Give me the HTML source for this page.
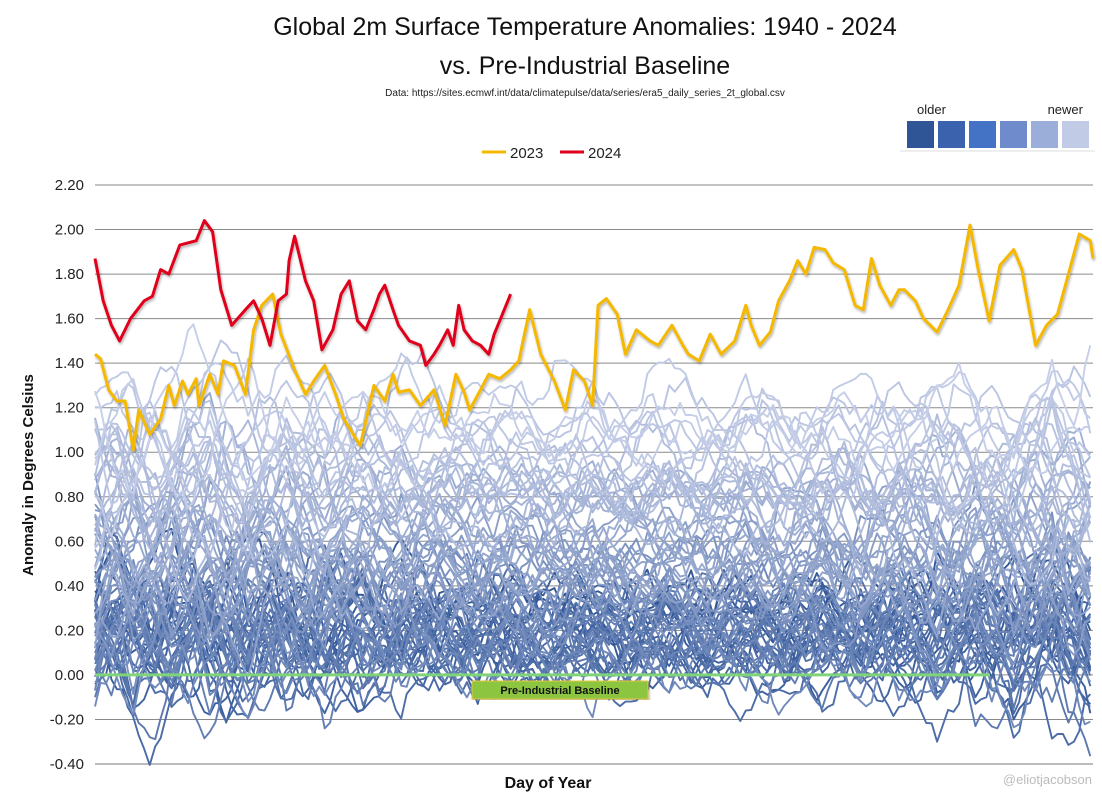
<!DOCTYPE html>
<html><head><meta charset="utf-8"><style>
body{margin:0;background:#fff;font-family:"Liberation Sans",sans-serif;}
svg text{font-family:"Liberation Sans",sans-serif;}
</style></head><body>
<svg id="chart" width="1102" height="800" viewBox="0 0 1102 800" xmlns="http://www.w3.org/2000/svg">
<defs><filter id="sh" x="-5%" y="-5%" width="110%" height="110%"><feDropShadow dx="1" dy="2" stdDeviation="1.2" flood-color="#000" flood-opacity="0.3"/></filter></defs>
<text x="585" y="35" font-size="25" text-anchor="middle" fill="#111">Global 2m Surface Temperature Anomalies: 1940 - 2024</text>
<text x="585" y="74" font-size="25" text-anchor="middle" fill="#111">vs. Pre-Industrial Baseline</text>
<text x="585" y="96" font-size="10" text-anchor="middle" fill="#222">Data: https://sites.ecmwf.int/data/climatepulse/data/series/era5_daily_series_2t_global.csv</text>
<g>
<text x="917" y="114" font-size="13" fill="#222">older</text>
<text x="1083" y="114" font-size="13" fill="#222" text-anchor="end">newer</text>
<rect x="907" y="121" width="27" height="27" fill="#2f5597"/>
<rect x="938" y="121" width="27" height="27" fill="#3a62ad"/>
<rect x="969" y="121" width="27" height="27" fill="#4472c4"/>
<rect x="1000" y="121" width="27" height="27" fill="#6f8bcc"/>
<rect x="1031" y="121" width="27" height="27" fill="#9aaed9"/>
<rect x="1062" y="121" width="27" height="27" fill="#c2cbe6"/>
<line x1="900" y1="151" x2="1095" y2="151" stroke="#ddd"/>
</g>
<g>
<line x1="482" y1="152" x2="506" y2="152" stroke="#f5b800" stroke-width="3"/>
<text x="510" y="158" font-size="15" fill="#222">2023</text>
<line x1="560" y1="152" x2="584" y2="152" stroke="#e0001b" stroke-width="3"/>
<text x="588" y="158" font-size="15" fill="#222">2024</text>
</g>
<g id="grid"></g>
<g id="bg"></g>
<g id="base"></g>
<g id="main"></g>
<text transform="translate(33,475) rotate(-90)" font-size="15" font-weight="bold" text-anchor="middle" fill="#111">Anomaly in Degrees Celsius</text>
<text x="548" y="788" font-size="16" font-weight="bold" text-anchor="middle" fill="#111">Day of Year</text>
<text x="1092" y="784" font-size="13" text-anchor="end" fill="#bbb">@eliotjacobson</text>
</svg>
<script>
const yTicks=[2.2,2.0,1.8,1.6,1.4,1.2,1.0,0.8,0.6,0.4,0.2,0.0,-0.2,-0.4];
const days2023=[1,3,6,9,12,15,17,21,25,28,30,33,35,38,39,43,46,48,52,56,59,62,66,69,74,78,81,85,89,92,98,103,107,110,112,116,120,125,129,133,136,138,142,145,149,153,156,160,164,169,173,176,180,183,185,188,192,195,199,204,207,212,216,218,222,226,230,235,239,241,244,248,251,255,258,261,264,268,271,275,279,282,285,288,292,295,297,301,304,309,313,317,321,324,328,332,337,340,345,349,353,357,361,365,366];
const vals2023=[1.44,1.42,1.28,1.23,1.23,1.01,1.19,1.08,1.15,1.30,1.21,1.32,1.26,1.33,1.21,1.35,1.26,1.41,1.39,1.26,1.55,1.66,1.71,1.53,1.37,1.26,1.32,1.39,1.26,1.15,1.03,1.30,1.23,1.35,1.27,1.28,1.21,1.28,1.12,1.35,1.27,1.19,1.28,1.35,1.33,1.37,1.41,1.64,1.44,1.32,1.19,1.37,1.32,1.21,1.66,1.69,1.62,1.44,1.55,1.50,1.48,1.57,1.48,1.44,1.41,1.53,1.44,1.50,1.66,1.57,1.48,1.54,1.68,1.77,1.86,1.80,1.92,1.91,1.85,1.82,1.66,1.64,1.87,1.75,1.66,1.73,1.73,1.68,1.60,1.54,1.64,1.75,2.02,1.82,1.59,1.84,1.91,1.82,1.48,1.57,1.62,1.80,1.98,1.95,1.87];
const days2024=[1,4,7,10,14,19,22,25,28,32,38,41,44,47,51,56,59,62,65,68,71,72,74,78,81,84,88,91,94,97,100,103,105,107,110,112,116,120,122,125,127,130,132,134,136,139,142,145,147,149,152,153];
const vals2024=[1.87,1.68,1.57,1.50,1.60,1.68,1.70,1.82,1.80,1.93,1.95,2.04,1.99,1.73,1.57,1.64,1.68,1.60,1.48,1.68,1.71,1.86,1.97,1.77,1.68,1.46,1.55,1.71,1.77,1.59,1.55,1.64,1.71,1.75,1.64,1.57,1.50,1.48,1.39,1.44,1.48,1.55,1.48,1.66,1.55,1.50,1.48,1.44,1.53,1.59,1.68,1.71];
const yearMeans=[0.25,0.30,0.22,0.25,0.35,0.25,0.12,0.15,0.12,0.10,
0.05,0.15,0.20,0.25,0.10,0.05,0.00,0.20,0.25,0.20,
0.20,0.25,0.22,0.25,0.02,0.08,0.15,0.15,0.10,0.25,
0.20,0.10,0.22,0.35,0.10,0.15,0.05,0.35,0.25,0.35,
0.45,0.45,0.30,0.50,0.35,0.35,0.42,0.55,0.55,0.45,
0.62,0.55,0.40,0.42,0.50,0.62,0.50,0.62,0.85,0.60,
0.62,0.75,0.80,0.80,0.75,0.85,0.82,0.85,0.70,0.85,
0.92,0.78,0.85,0.88,0.92,1.05,1.20,1.10,1.00,1.12,
1.20,1.05,1.12];
const wiggle0=[0.05,0.12,-0.03,0.18,0.22,0.08,-0.10,-0.05,0.15,0.25,0.10,-0.08,-0.15,0.02,0.10,-0.05,-0.12,0.00,0.08,0.14,0.03,-0.06,-0.02,0.06,0.11,0.04,-0.07,-0.11,0.00,0.09,0.05,-0.04,0.02,0.10,0.06,-0.05,-0.09,0.03,0.12,0.07,-0.02,0.05,0.14,0.08,-0.06,-0.12,-0.03,0.10,0.18,0.06,-0.08,0.02,0.12];
const wiggle1=[-0.10,-0.02,0.15,0.05,-0.12,-0.20,-0.05,0.10,0.20,0.08,-0.06,0.04,0.16,0.06,-0.08,-0.03,0.09,0.04,-0.06,-0.10,0.02,0.08,0.01,-0.05,0.03,0.09,0.02,-0.04,0.05,0.00,-0.08,-0.02,0.07,0.12,0.01,-0.07,0.04,0.10,-0.02,-0.10,-0.04,0.06,0.02,-0.06,0.08,0.15,0.03,-0.10,-0.18,-0.04,0.12,0.20,0.05];
const wiggle2=[0.20,0.08,-0.10,-0.18,0.02,0.12,0.25,0.15,-0.02,-0.15,-0.08,0.06,0.00,-0.10,0.05,0.14,0.06,-0.04,0.03,-0.07,-0.02,0.05,0.10,0.02,-0.08,-0.03,0.04,0.08,-0.01,-0.06,0.03,0.09,0.04,-0.05,-0.10,0.00,0.07,0.02,-0.07,0.05,0.12,0.04,-0.08,-0.14,0.02,0.10,0.18,0.05,-0.12,-0.06,0.08,0.15,-0.02];
const wiggle3=[-0.15,0.05,0.20,0.10,0.00,0.18,0.05,-0.15,-0.22,-0.05,0.12,0.20,0.06,-0.04,0.08,0.02,-0.09,0.05,0.12,0.03,-0.05,0.02,-0.06,0.00,0.07,-0.02,0.06,0.11,0.03,-0.05,-0.01,0.08,-0.03,-0.08,0.04,0.09,0.02,-0.06,0.01,0.08,0.13,0.02,-0.09,0.03,0.10,-0.04,-0.16,0.00,0.14,0.22,0.06,-0.10,-0.05];
const wiggle4=[0.10,-0.08,-0.20,0.00,0.15,-0.05,0.05,0.22,0.12,-0.10,-0.02,0.14,0.04,-0.12,-0.04,0.07,0.12,0.00,-0.07,0.04,0.09,-0.03,-0.08,0.03,0.00,0.06,-0.04,0.01,0.09,0.05,-0.06,0.00,0.05,-0.02,0.08,0.03,-0.05,0.06,0.00,-0.06,0.04,0.11,0.01,-0.07,0.06,0.16,0.05,-0.10,0.04,0.00,-0.14,0.06,0.16];
const seasonalAmp=[1.8,1.8,1.6,1.3,1.1,1.0,1.0,1.0,1.1,1.3,1.5,1.7];
const dailyJitter=[0.02,-0.03,0.04,0.01,-0.02,0.03,-0.04,0.00,0.03,-0.01,0.02,-0.03,0.01,0.04,-0.02,0.00,-0.03];

const NS='http://www.w3.org/2000/svg';
const X0=95,X1=1093,YT=185,YB=764,VT=2.2,VB=-0.4;
const xS=d=>X0+(d-1)/365*(X1-X0);
const yS=v=>YT+(VT-v)/(VT-VB)*(YB-YT);
const wiggles=[wiggle0,wiggle1,wiggle2,wiggle3,wiggle4];
function mk(tag,attrs,parent){const e=document.createElementNS(NS,tag);for(const k in attrs)e.setAttribute(k,attrs[k]);parent.appendChild(e);return e;}
const grid=document.getElementById('grid');
yTicks.forEach(t=>{
  const l=mk('line',{x1:X0,x2:X1,y1:yS(t),y2:yS(t),stroke:t===VB?'#777':'#8a8a8a','stroke-width':1},grid);
  
  
  const tx=mk('text',{x:84,y:yS(t)+5,'font-size':15,'text-anchor':'end',fill:'#222'},grid);
  tx.textContent=t.toFixed(2);
  
  
});
function lerp(a,b,t){return a+(b-a)*t;}
const c0=[47,85,151],c1=[198,206,232];
const bg=document.getElementById('bg');
const N=yearMeans.length;
for(let i=0;i<N;i++){
  const w=wiggles[i%5],sh=(i*11)%53,sign=(Math.floor(i/5)%2)?-1:1;
  let pts=[];
  for(let d=1;d<=366;d+=2){
    const p=(d-1)/7,k=Math.floor(p),f=p-k;
    const wv=lerp(w[(k+sh)%53],w[(k+1+sh)%53],f)*sign;
    const m=Math.min(11,Math.floor((d-1)/30.5));
    const v=yearMeans[i]+seasonalAmp[m]*wv+dailyJitter[(d+i*5)%17];
    pts.push(xS(d).toFixed(1)+','+yS(v).toFixed(1));
  }
  const t=i/(N-1);
  const col=`rgb(${c0.map((c,j)=>Math.round(lerp(c,c1[j],t))).join(',')})`;
  const pl=mk('polyline',{points:pts.join(' '),fill:'none',stroke:col,'stroke-width':1.9,'stroke-linejoin':'round'},bg);
  
  
}
const base=document.getElementById('base');
const bl=mk('line',{x1:X0,x2:990,y1:yS(0),y2:yS(0),stroke:'#7fd47a','stroke-width':3},base);


const bx=mk('rect',{x:472,y:681,width:176,height:18,fill:'#8cc63f',stroke:'#e8c840','stroke-width':1,filter:'url(#sh)'},base);


const bt=mk('text',{x:560,y:694,'font-size':11,'font-weight':'bold','text-anchor':'middle',fill:'#111'},base);
bt.textContent='Pre-Industrial Baseline';


const main=document.getElementById('main');
function drawLine(ds,vs,col,name){
  const pts=ds.map((d,j)=>xS(d).toFixed(1)+','+yS(vs[j]).toFixed(1)).join(' ');
  const pl=mk('polyline',{points:pts,fill:'none',stroke:col,'stroke-width':3,'stroke-linejoin':'round',filter:'url(#sh)'},main);
  
  
}
drawLine(days2023,vals2023,'#f5b800','series-2023');
drawLine(days2024,vals2024,'#e0001b','series-2024');
</script>
</body></html>
